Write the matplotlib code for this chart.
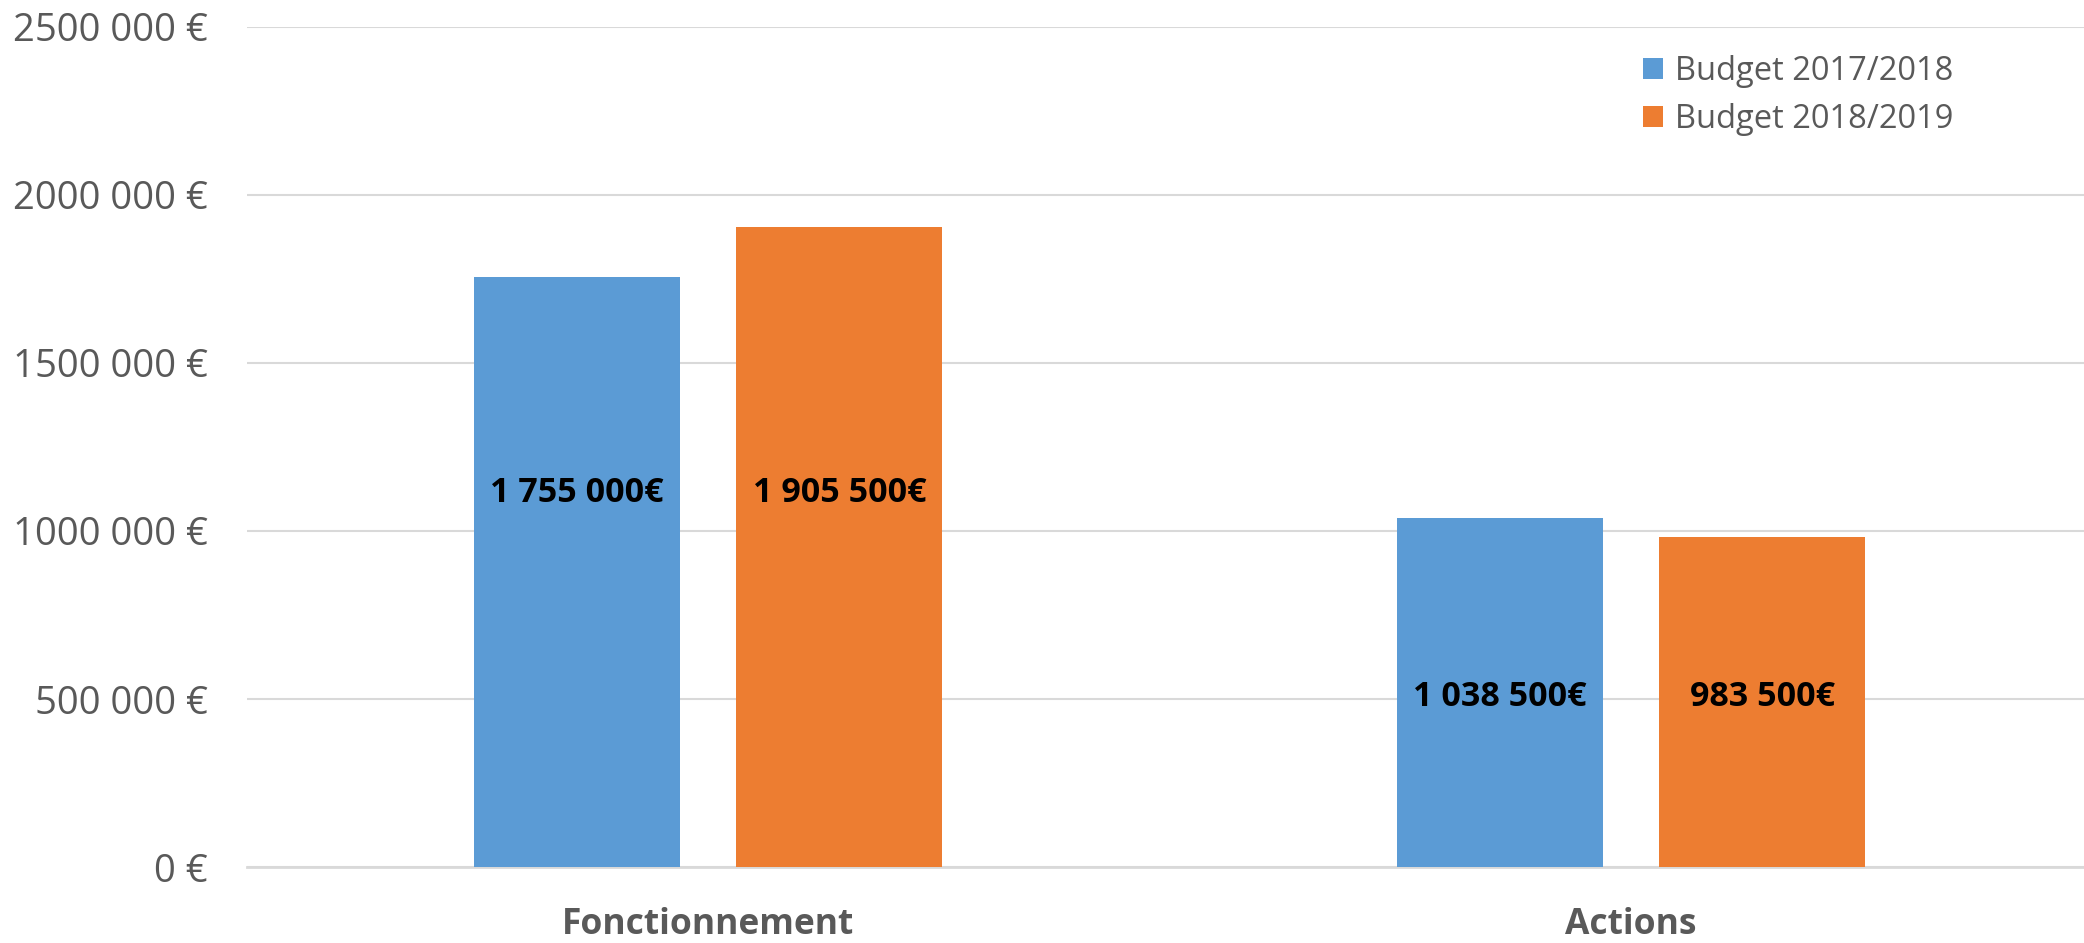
import matplotlib
matplotlib.use("Agg")
import matplotlib.pyplot as plt
import numpy as np

categories = ["Fonctionnement", "Actions"]
series_names = ["Budget 2017/2018", "Budget 2018/2019"]
budget_2017 = [1755000, 1038500]
budget_2018 = [1905500, 983500]
value_labels_2017 = ["1 755 000€", "1 038 500€"]
value_labels_2018 = ["1 905 500€", "983 500€"]
y_ticks = [0, 500000, 1000000, 1500000, 2000000, 2500000]
y_tick_labels = ["0 €", "500 000 €", "1000 000 €", "1500 000 €", "2000 000 €", "2500 000 €"]

plt.rcParams['font.family'] = ['Open Sans', 'DejaVu Sans']

fig = plt.figure(figsize=(20.84, 9.43), dpi=100)
ax = fig.add_axes([246.5/2084, 1-867/943, 1846/2084, (867-27)/943])

x = np.arange(len(categories))
w = 0.223
off = 0.1423
c1, c2 = "#5b9bd5", "#ed7d31"
ax.bar(x - off, budget_2017, width=w, color=c1, label=series_names[0], zorder=3)
ax.bar(x + off, budget_2018, width=w, color=c2, label=series_names[1], zorder=3)

label_y = [1113000, 506000]
for i in range(len(categories)):
    ax.text(x[i] - off, label_y[i], value_labels_2017[i], ha="center", va="center",
            fontsize=24.5, fontweight="bold", color="black", zorder=4)
    ax.text(x[i] + off, label_y[i], value_labels_2018[i], ha="center", va="center",
            fontsize=24.5, fontweight="bold", color="black", zorder=4)

ax.set_xlim(-0.5, 1.5)
ax.set_ylim(0, 2500000)
ax.set_yticks(y_ticks)
ax.set_yticklabels(y_tick_labels)
ax.set_xticks(x)
ax.set_xticklabels(categories, fontweight="bold")
ax.tick_params(axis="y", length=0, pad=28, labelsize=27.5, labelcolor="#595959")
ax.tick_params(axis="x", length=0, pad=29, labelsize=25.5, labelcolor="#595959")
ax.grid(axis="y", color="#d9d9d9", linewidth=1.5, zorder=0)
for s in ["top", "right", "left"]:
    ax.spines[s].set_visible(False)
ax.spines["bottom"].set_color("#d9d9d9")
ax.spines["bottom"].set_linewidth(2)

leg = ax.legend(loc="upper left", bbox_to_anchor=((1630-246.5)/1846, 1-(42-27)/840),
                frameon=False, fontsize=23.5, handlelength=0.62, handleheight=0.62,
                handletextpad=0.35, labelspacing=0.47, borderaxespad=0)
for t in leg.get_texts():
    t.set_color("#595959")

fig.savefig("out.png", dpi=100, facecolor="white")
